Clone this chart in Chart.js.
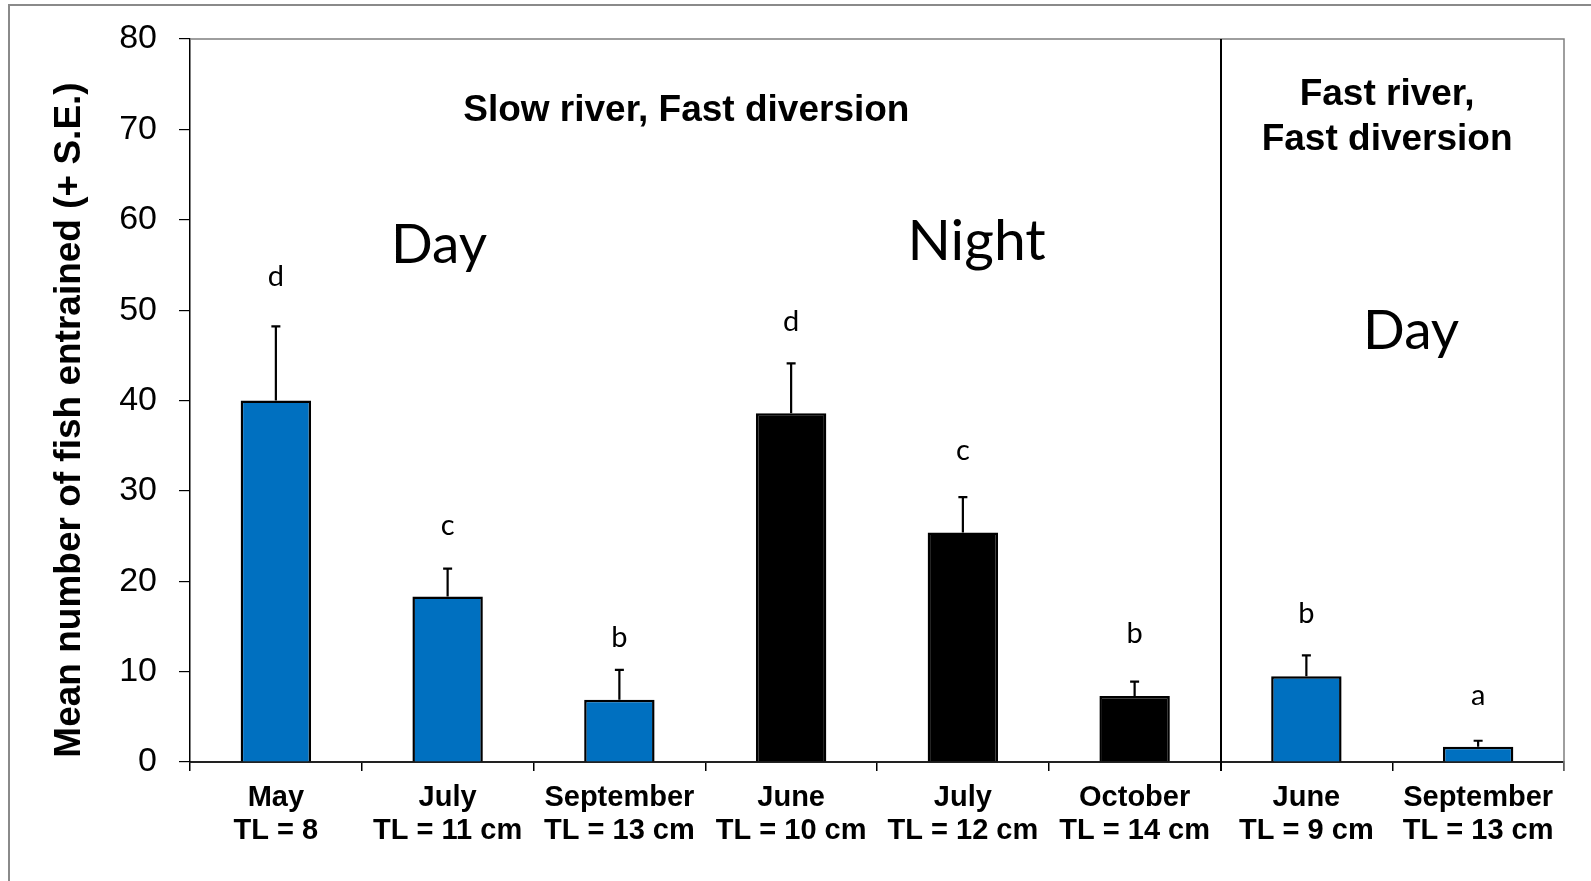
<!DOCTYPE html>
<html>
<head>
<meta charset="utf-8">
<script src="https://cdn.jsdelivr.net/npm/chart.js@4.4.1/dist/chart.umd.min.js"></script>
<style>
  body { margin: 0; background: #fff; }
  canvas { display: block; }
</style>
</head>
<body>
<canvas id="entrainChart" width="1591" height="881"></canvas>
<script>
// categories: month + total length
const months = ['May', 'July', 'September', 'June', 'July', 'October', 'June', 'September'];
const sizes = ['TL = 8', 'TL = 11 cm', 'TL = 13 cm', 'TL = 10 cm', 'TL = 12 cm', 'TL = 14 cm', 'TL = 9 cm', 'TL = 13 cm'];

// mean number entrained and top of the +S.E. whisker
const meanFish = [40.0, 18.3, 6.9, 38.6, 25.4, 7.3, 9.5, 1.7];
const seTop = [48.2, 21.4, 10.2, 44.1, 29.3, 8.9, 11.8, 2.35];

// significance groups and where they sit
const groupLetters = ['d', 'c', 'b', 'd', 'c', 'b', 'b', 'a'];
const letterLevel = [53.7, 26.2, 13.8, 48.7, 34.5, 14.2, 16.4, 7.3];

// day / night
const period = ['day', 'day', 'day', 'night', 'night', 'night', 'day', 'day'];

const yTicks = [0, 10, 20, 30, 40, 50, 60, 70, 80];

const BLUE = '#0070C0';
const ARIAL = '"Liberation Sans", Arial, sans-serif';
const CALIBRI = 'Lato, "Open Sans", sans-serif';

// free text placed in axis units [category index, y value]
const notes = [
  { text: 'Slow river, Fast diversion', at: [2.39, 72.1], font: 'bold 37px ' + ARIAL },
  { text: 'Fast river,', at: [6.47, 73.8], font: 'bold 37px ' + ARIAL },
  { text: 'Fast diversion', at: [6.47, 68.9], font: 'bold 37px ' + ARIAL },
  { text: 'Day', at: [0.95, 57.2], font: '55px ' + CALIBRI },
  { text: 'Night', at: [4.08, 57.6], font: '57px ' + CALIBRI },
  { text: 'Day', at: [6.61, 47.7], font: '55px ' + CALIBRI }
];

const errorBars = {
  id: 'errorBars',
  afterDatasetsDraw(chart) {
    const { ctx, scales: { y } } = chart;
    const bars = chart.getDatasetMeta(0).data;
    ctx.save();
    ctx.strokeStyle = '#000';
    ctx.lineWidth = 2.2;
    bars.forEach((bar, i) => {
      const top = y.getPixelForValue(seTop[i]);
      const base = y.getPixelForValue(meanFish[i]);
      ctx.beginPath();
      ctx.moveTo(bar.x, base);
      ctx.lineTo(bar.x, top);
      ctx.moveTo(bar.x - 4.5, top);
      ctx.lineTo(bar.x + 4.5, top);
      ctx.stroke();
    });
    // significance letters
    ctx.fillStyle = '#000';
    ctx.font = '29px ' + CALIBRI;
    ctx.textAlign = 'center';
    ctx.textBaseline = 'middle';
    bars.forEach((bar, i) => {
      ctx.fillText(groupLetters[i], bar.x, y.getPixelForValue(letterLevel[i]));
    });
    ctx.restore();
  }
};

const frameAndNotes = {
  id: 'frameAndNotes',
  beforeDraw(chart) {
    const { ctx } = chart;
    ctx.save();
    // outer frame (left and top edges)
    ctx.strokeStyle = '#8a8a8a';
    ctx.lineWidth = 2;
    ctx.beginPath();
    ctx.moveTo(9, chart.height);
    ctx.lineTo(9, 5);
    ctx.lineTo(chart.width, 5);
    ctx.stroke();
    ctx.restore();
  },
  afterDraw(chart) {
    const { ctx, chartArea: a, scales: { x, y } } = chart;
    ctx.save();
    // top and right edges of the plot box
    ctx.strokeStyle = '#7f7f7f';
    ctx.lineWidth = 1.5;
    ctx.beginPath();
    ctx.moveTo(a.left, a.top);
    ctx.lineTo(a.right, a.top);
    ctx.lineTo(a.right, a.bottom + 9);
    ctx.stroke();

    // divider between the two river types
    const xd = Math.round(x.getPixelForValue(5.5));
    ctx.strokeStyle = '#000';
    ctx.lineWidth = 2;
    ctx.beginPath();
    ctx.moveTo(xd, a.top);
    ctx.lineTo(xd, a.bottom + 9);
    ctx.stroke();

    // y-axis title
    ctx.fillStyle = '#000';
    ctx.font = 'bold 37px ' + ARIAL;
    ctx.textAlign = 'center';
    ctx.textBaseline = 'middle';
    ctx.translate(70, 420);
    ctx.rotate(-Math.PI / 2);
    ctx.fillText('Mean number of fish entrained (+ S.E.)', 0, 0);
    ctx.setTransform(1, 0, 0, 1, 0, 0);

    notes.forEach(n => {
      ctx.font = n.font;
      ctx.fillText(n.text, x.getPixelForValue(n.at[0]), y.getPixelForValue(n.at[1]));
    });
    ctx.restore();
  }
};

new Chart(document.getElementById('entrainChart'), {
  type: 'bar',
  data: {
    labels: months.map((m, i) => [m, sizes[i]]),
    datasets: [{
      data: meanFish,
      backgroundColor: period.map(p => p === 'night' ? '#000' : BLUE),
      borderColor: '#000',
      borderWidth: 2.5,
      barPercentage: 0.41,
      categoryPercentage: 1
    }]
  },
  options: {
    responsive: false,
    devicePixelRatio: 1,
    animation: false,
    layout: { padding: { left: 0, top: 39, right: 27, bottom: 0 } },
    plugins: {
      legend: { display: false },
      tooltip: { enabled: false }
    },
    scales: {
      x: {
        grid: {
          display: true,
          offset: true,
          drawOnChartArea: false,
          drawTicks: true,
          tickLength: 9,
          color: '#000',
          lineWidth: 1.5
        },
        border: { display: true, color: '#222', width: 2 },
        ticks: {
          color: '#000',
          font: { family: ARIAL, size: 29, weight: 'bold', lineHeight: 1.12 },
          padding: 11,
          maxRotation: 0,
          autoSkip: false
        },
        afterFit(scale) { scale.height = 119; }
      },
      y: {
        min: 0,
        max: 80,
        afterBuildTicks(scale) { scale.ticks = yTicks.map(v => ({ value: v })); },
        grid: {
          display: true,
          drawOnChartArea: false,
          drawTicks: true,
          tickLength: 11,
          color: '#000',
          lineWidth: 1.2
        },
        border: { display: true, color: '#000', width: 1.5 },
        ticks: {
          color: '#000',
          font: { family: ARIAL, size: 34 },
          padding: 22
        },
        afterFit(scale) {
          scale.width = 190;
          scale.paddingTop = 0;
          scale.paddingBottom = 0;
        }
      }
    }
  },
  plugins: [frameAndNotes, errorBars]
});
</script>
</body>
</html>
